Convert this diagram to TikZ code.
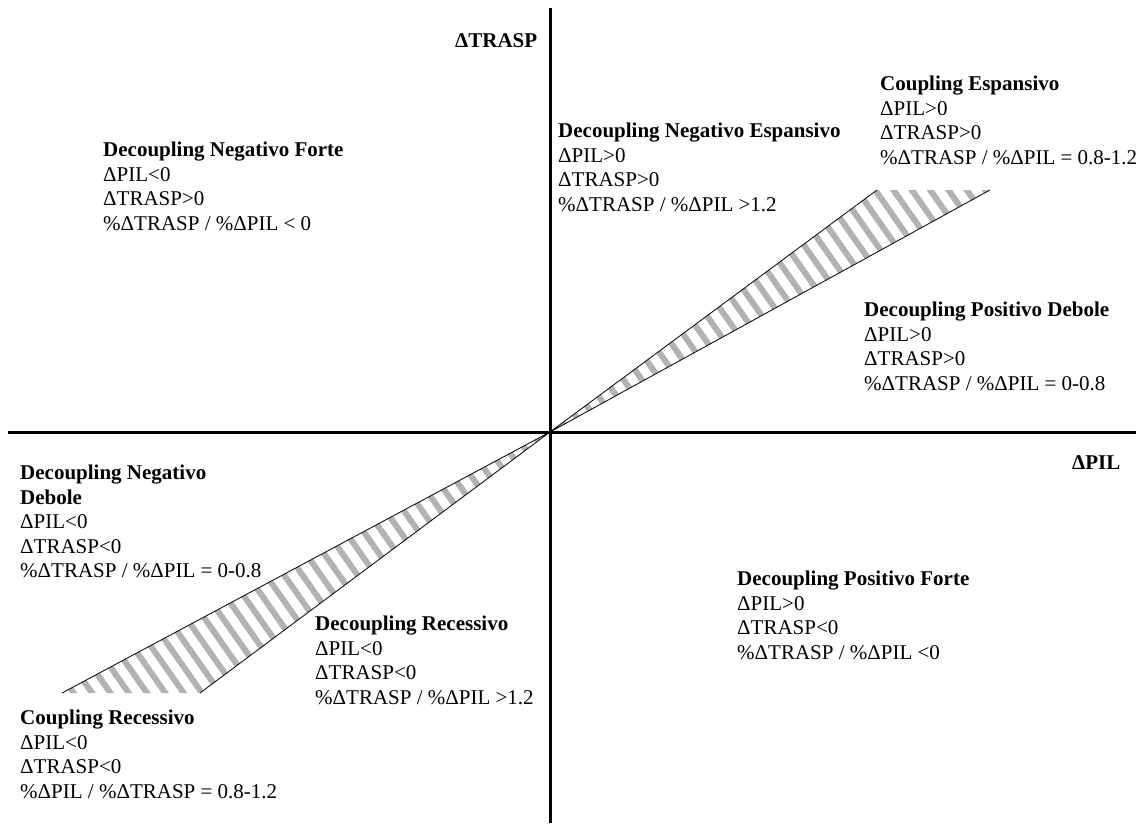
\documentclass[tikz,border=0pt]{standalone}
\usepackage{fontspec}
\setmainfont{Liberation Serif}
\usetikzlibrary{patterns.meta}
\begin{document}
\begin{tikzpicture}[x=1pt,y=-1pt,
  txt/.style={anchor=north west,inner sep=0pt,align=left,font=\fontsize{21}{24.5}\selectfont},
  axisline/.style={line width=3pt},
  wedgefill/.style={pattern={Lines[angle=-55,distance=15pt,line width=6pt]},pattern color=black!30},
  wedgeedge/.style={line width=0.8pt}]
\useasboundingbox (0,0) rectangle (1144,823);
\coordinate (O) at (550,432);
\coordinate (ut1) at (877,190);
\coordinate (ut2) at (990,190);
\coordinate (lb1) at (62,693);
\coordinate (lb2) at (200,693);
\fill[wedgefill] (O) -- (ut1) -- (ut2) -- cycle;
\fill[wedgefill] (O) -- (lb1) -- (lb2) -- cycle;
\draw[wedgeedge] (O) -- (ut1) (O) -- (ut2) (O) -- (lb1) (O) -- (lb2);
\coordinate (xl) at (8,432);
\coordinate (xr) at (1136,432);
\coordinate (yt) at (550,8);
\coordinate (yb) at (550,823);
\draw[axisline] (xl) -- (xr);
\draw[axisline] (yt) -- (yb);
\node[txt] (ytitle) at (455,33) {\textbf{ΔTRASP}};
\node[txt] (xtitle) at (1072,455) {\textbf{ΔPIL}};
\node[txt] (dnf) at (103,142) {\textbf{Decoupling Negativo Forte}\\ΔPIL<0\\ΔTRASP>0\\\%ΔTRASP / \%ΔPIL < 0};
\node[txt] (dne) at (558,123) {\textbf{Decoupling Negativo Espansivo}\\ΔPIL>0\\ΔTRASP>0\\\%ΔTRASP / \%ΔPIL >1.2};
\node[txt] (ce) at (880,76) {\textbf{Coupling Espansivo}\\ΔPIL>0\\ΔTRASP>0\\\%ΔTRASP / \%ΔPIL = 0.8-1.2};
\node[txt] (dpd) at (864,302) {\textbf{Decoupling Positivo Debole}\\ΔPIL>0\\ΔTRASP>0\\\%ΔTRASP / \%ΔPIL = 0-0.8};
\node[txt] (dnd) at (20,465) {\textbf{Decoupling Negativo}\\\textbf{Debole}\\ΔPIL<0\\ΔTRASP<0\\\%ΔTRASP / \%ΔPIL = 0-0.8};
\node[txt] (dpf) at (737,571) {\textbf{Decoupling Positivo Forte}\\ΔPIL>0\\ΔTRASP<0\\\%ΔTRASP / \%ΔPIL <0};
\node[txt] (dr) at (315,616) {\textbf{Decoupling Recessivo}\\ΔPIL<0\\ΔTRASP<0\\\%ΔTRASP / \%ΔPIL >1.2};
\node[txt] (cr) at (20,710) {\textbf{Coupling Recessivo}\\ΔPIL<0\\ΔTRASP<0\\\%ΔPIL / \%ΔTRASP = 0.8-1.2};
\end{tikzpicture}
\end{document}
